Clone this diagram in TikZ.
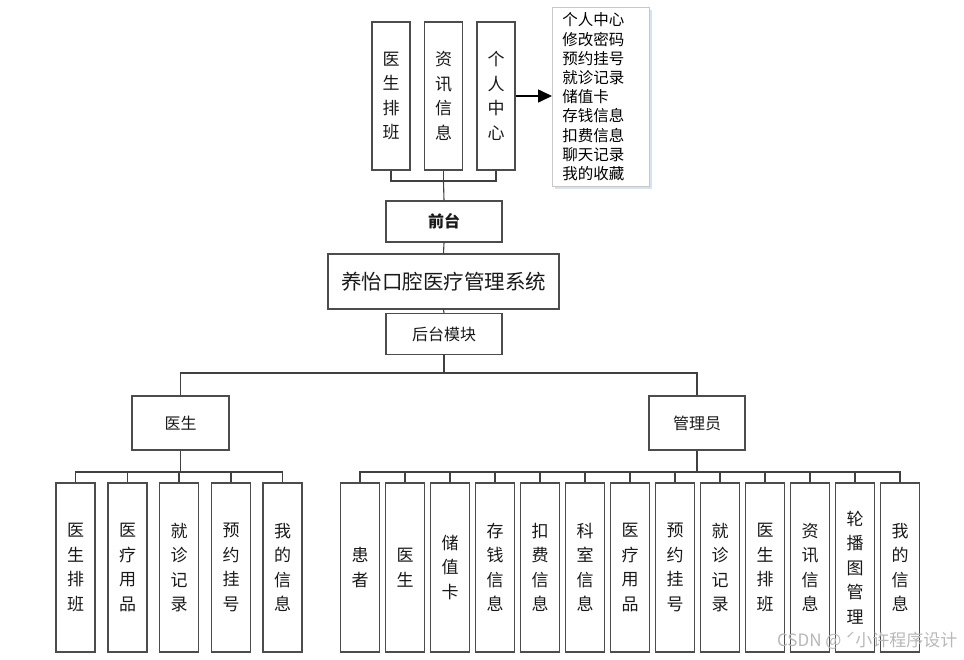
\documentclass[tikz,border=0pt]{standalone}
\usepackage{fontspec}
\setmainfont{Noto Sans CJK SC}
\usepackage{tikz}
\usetikzlibrary{positioning,arrows.meta,shadows}

\begin{document}
\begin{tikzpicture}[x=1pt,y=-1pt,font=\fontsize{16}{19}\selectfont,align=center,
  box/.style={draw=black!70,line width=1.2pt,fill=white,inner sep=0pt,text=black!90},
  vbox/.style={box,minimum width=39pt,minimum height=169pt,font=\fontsize{17}{24.5}\selectfont},
  tbox/.style={box,minimum width=38pt,minimum height=148pt,font=\fontsize{17}{24.5}\selectfont},
  hbox/.style={box,minimum width=116pt,minimum height=41pt},
  link/.style={draw=black!75,line width=1.1pt},
  arr/.style={-{Triangle[length=14pt,width=13pt]},line width=1.6pt,draw=black}]
\definecolor{listedge}{HTML}{C8C8C8}
\definecolor{listshade}{HTML}{D6E2EE}
\useasboundingbox (0,0) rectangle (964,659);
% front end
\node[tbox] (t1) at (391,96) {医\\生\\排\\班};
\node[tbox] (t2) at (443.5,96) {资\\讯\\信\\息};
\node[tbox] (t3) at (496,96) {个\\人\\中\\心};
\node[draw=listedge,line width=.8pt,fill=white,anchor=north west,minimum width=97pt,
  minimum height=179pt,inner sep=0pt,text width=87pt,align=left,
  font=\fontsize{15.5}{19.2}\selectfont,
  drop shadow={fill=listshade,opacity=1,shadow xshift=3pt,shadow yshift=-3pt}] (list) at (552,7)
  {\hspace*{5pt}个人中心\\\hspace*{5pt}修改密码\\\hspace*{5pt}预约挂号\\\hspace*{5pt}就诊记录\\
   \hspace*{5pt}储值卡\\\hspace*{5pt}存钱信息\\\hspace*{5pt}扣费信息\\\hspace*{5pt}聊天记录\\
   \hspace*{5pt}我的收藏};
\draw[arr] (t3.east) -- (list.west |- t3.east);
\node[hbox,font=\bfseries\fontsize{16}{19}\selectfont] (front) at (444,221.5) {前台};
\coordinate (fbus) at (443.5,181);
\draw[link] (front.north) -- (fbus);
\draw[link] (t1.south) |- (fbus) -| (t3.south);
\draw[link] (t2.south) -- (fbus);
% system
\node[box,minimum width=231pt,minimum height=55pt,font=\fontsize{20.5}{24}\selectfont] (sys) at (443.5,281.5) {养怡口腔医疗管理系统};
\node[hbox] (back) at (444,334) {后台模块};
\draw[link] (front.south) -- (sys.north);
\draw[link] (sys.south) -- (back.north);
% back end
\node[box,minimum width=97pt,minimum height=54pt] (doc) at (180.5,423) {医生};
\node[box,minimum width=96pt,minimum height=54pt] (adm) at (697,423) {管理员};
\coordinate (bbus) at (444,373);
\draw[link] (back.south) -- (bbus);
\draw[link] (doc.north) |- (bbus) -| (adm.north);
% doctor modules
\node[vbox] (d1) at (75.5,567.5) {医\\生\\排\\班};
\node[vbox] (d2) at (127.5,567.5) {医\\疗\\用\\品};
\node[vbox] (d3) at (179,567.5) {就\\诊\\记\\录};
\node[vbox] (d4) at (231,567.5) {预\\约\\挂\\号};
\node[vbox] (d5) at (282.5,567.5) {我\\的\\信\\息};
\coordinate (dbus) at (180.5,472);
\draw[link] (doc.south) -- (dbus);
\draw[link] (d1.north) |- (d5.north |- dbus) -- (d5.north);
\draw[link] (dbus) -| (d2.north); \draw[link] (dbus) -| (d3.north); \draw[link] (dbus) -| (d4.north);
% admin modules
\node[vbox] (a1) at (360,567.5) {患\\者};
\node[vbox] (a2) at (405,567.5) {医\\生};
\node[vbox] (a3) at (450,567.5) {储\\值\\卡};
\node[vbox] (a4) at (495,567.5) {存\\钱\\信\\息};
\node[vbox] (a5) at (540,567.5) {扣\\费\\信\\息};
\node[vbox] (a6) at (585,567.5) {科\\室\\信\\息};
\node[vbox] (a7) at (630,567.5) {医\\疗\\用\\品};
\node[vbox] (a8) at (675,567.5) {预\\约\\挂\\号};
\node[vbox] (a9) at (720,567.5) {就\\诊\\记\\录};
\node[vbox] (a10) at (765,567.5) {医\\生\\排\\班};
\node[vbox] (a11) at (810,567.5) {资\\讯\\信\\息};
\node[vbox] (a12) at (855,567.5) {轮\\播\\图\\管\\理};
\node[vbox] (a13) at (900,567.5) {我\\的\\信\\息};
\coordinate (abus) at (697,472);
\draw[link] (adm.south) -- (abus);
\draw[link] (a1.north) |- (a13.north |- abus) -- (a13.north);
\draw[link] (abus) -| (a2.north); \draw[link] (abus) -| (a3.north); \draw[link] (abus) -| (a4.north);
\draw[link] (abus) -| (a5.north); \draw[link] (abus) -| (a6.north); \draw[link] (abus) -| (a7.north);
\draw[link] (abus) -| (a8.north); \draw[link] (abus) -| (a9.north); \draw[link] (abus) -| (a10.north);
\draw[link] (abus) -| (a11.north); \draw[link] (abus) -| (a12.north);
\node[text=black!28,font=\fontsize{17}{20}\selectfont,anchor=east] (mark) at (961,641) {CSDN @ ˊ小许程序设计};
\end{tikzpicture}
\end{document}
